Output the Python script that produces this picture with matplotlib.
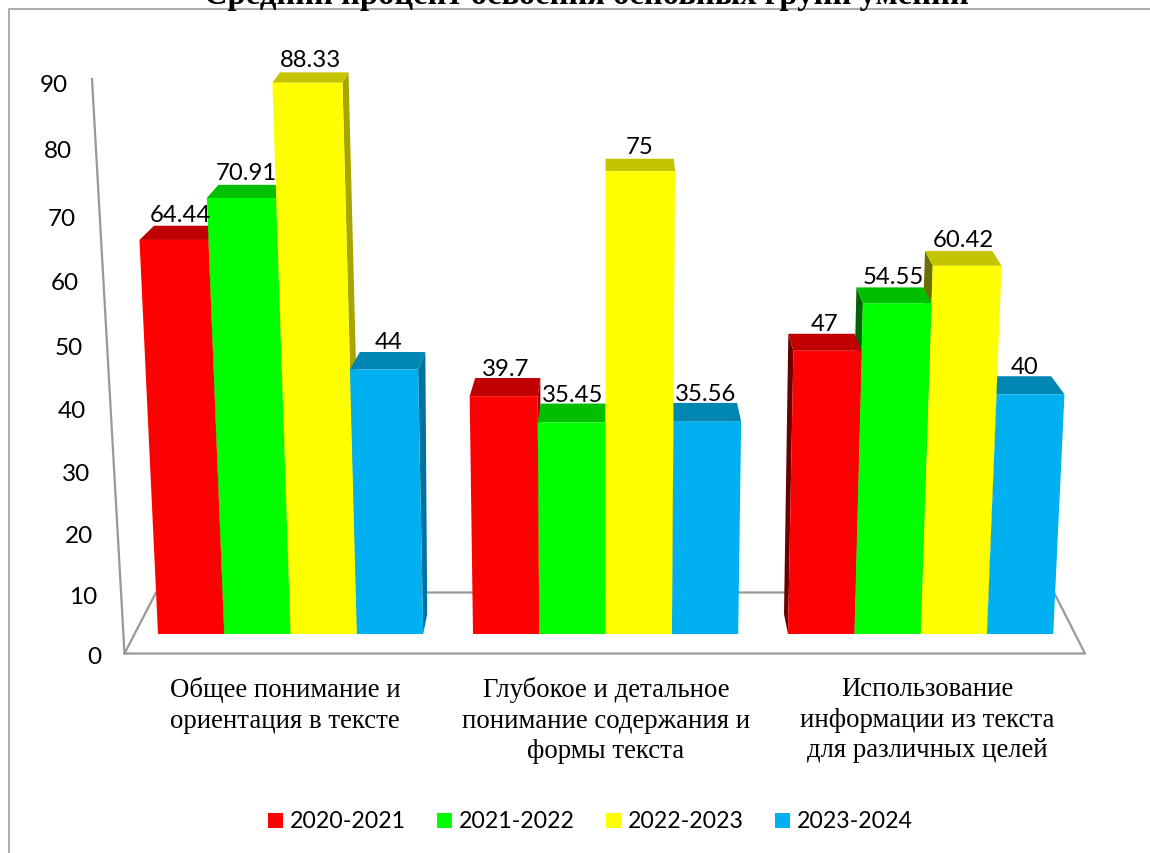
import matplotlib
matplotlib.use("Agg")
import matplotlib.pyplot as plt
from matplotlib.patches import Polygon, Rectangle

title = "Средний процент освоения основных групп умений"
categories = ["Общее понимание и\nориентация в тексте",
              "Глубокое и детальное\nпонимание содержания и\nформы текста",
              "Использование\nинформации из текста\nдля различных целей"]
years = ["2020-2021", "2021-2022", "2022-2023", "2023-2024"]
values = {
    "2020-2021": [64.44, 39.7, 47],
    "2021-2022": [70.91, 35.45, 54.55],
    "2022-2023": [88.33, 75, 60.42],
    "2023-2024": [44, 35.56, 40],
}
labels = {
    "2020-2021": ["64.44", "39.7", "47"],
    "2021-2022": ["70.91", "35.45", "54.55"],
    "2022-2023": ["88.33", "75", "60.42"],
    "2023-2024": ["44", "35.56", "40"],
}
y_ticks = [0, 10, 20, 30, 40, 50, 60, 70, 80, 90]

front = ["#FF0000", "#00FF00", "#FFFF00", "#00B0F0"]
top = ["#C00000", "#00BF00", "#C4C400", "#0086B3"]
side_right = ["#A00000", "#00A000", "#A6A600", "#0072A0"]
side_left = ["#6A0000", "#006400", "#6E6E00", "#005A80"]
SANS = "Lato"
SERIF = "Liberation Serif"
GREY = "#999999"


# the picture is a perspective view, so map (base x, value) to pixels by hand
def height_px(v):
    return 5.8 * v / (1 - 0.0008 * v)


def project(x0, v):
    h = height_px(v)
    return x0 + (x0 - 606) * 0.000105 * h, 635 - h


def depth(x, v):
    dy = 24.5 - 0.16 * v
    k = 0.0022 if x < 606 else 0.0016
    return x + (606 - x) * k * dy, dy


def base_depth(x):
    return x + (606 - x) * 0.022, 20


fig = plt.figure(figsize=(11.5, 8.54), dpi=100)
ax = fig.add_axes([0, 0, 1, 1])
ax.set_xlim(0, 1150)
ax.set_ylim(854, 0)
ax.axis("off")

# chart border (only left and top are in the frame)
ax.plot([9, 9, 1150], [854, 10, 10], color="#A6A6A6", lw=1.3)
ax.text(586, 4, title, family=SERIF, weight="bold", fontsize=23.5, ha="center", va="baseline")

# floor and wall
ax.plot([92, 124.5, 1085, 1054, 156, 124.5], [80, 654.5, 654.5, 593.5, 593.5, 654.5], color=GREY, lw=1.6)

tick_x = [101, 97, 93, 90, 86, 83, 79, 76, 72, 68]
tick_y = [658, 598, 537, 475, 412, 349, 284, 219, 151, 85]
for t, tx, ty in zip(y_ticks, tick_x, tick_y):
    ax.text(tx, ty, str(t), family=SANS, fontsize=17.5, ha="right", va="center")

# bars, outermost first so that the inner ones cover their side faces
bars = []
for j, name in enumerate(years):
    for i in range(len(categories)):
        left = 158 + i * 315 + j * 66.3
        bars.append((abs(left + 33 - 612), left, values[name][i], labels[name][i], j))
bars.sort(key=lambda b: -b[0])

for _, left, v, lab, j in bars:
    right = left + 66.3
    (xl, yt), (xr, _) = project(left, v), project(right, v)
    bxl, d = depth(xl, v)
    bxr, _ = depth(xr, v)
    if left + 33 < 612:
        # right face is the visible one
        bx0, d0 = base_depth(right)
        ax.add_patch(Polygon([(xr, yt), (bxr, yt - d), (bx0, 635 - d0), (right, 635)],
                             fc=side_right[j], ec="none", zorder=2))
    else:
        bx0, d0 = base_depth(left)
        ax.add_patch(Polygon([(xl, yt), (bxl, yt - d), (bx0, 635 - d0), (left, 635)],
                             fc=side_left[j], ec="none", zorder=2))
    ax.add_patch(Polygon([(xl, yt), (bxl, yt - d), (bxr, yt - d), (xr, yt)], fc=top[j], ec="none", zorder=2))
    ax.add_patch(Polygon([(xl, yt), (xr, yt), (right, 635), (left, 635)], fc=front[j], ec="none", zorder=2))
    # label sits over the middle of the top face
    ax.text((xl + xr + bxl + bxr) / 4, yt - d + 3.5 - 0.07 * v, lab, family=SANS, fontsize=17.2,
            ha="center", va="bottom", zorder=5)

cat_x = [285, 606, 927]
for cx, cat in zip(cat_x, categories):
    ax.text(cx, 677, cat, family=SERIF, fontsize=19.3, ha="center", va="top", linespacing=1.3)

# legend
for j, name in enumerate(years):
    x = 268 + j * 169
    ax.add_patch(Rectangle((x, 814), 15, 15, fc=front[j], ec="none"))
    ax.text(x + 22, 822, name, family=SANS, fontsize=16.7, ha="left", va="center")

fig.savefig("out.png", dpi=100)
